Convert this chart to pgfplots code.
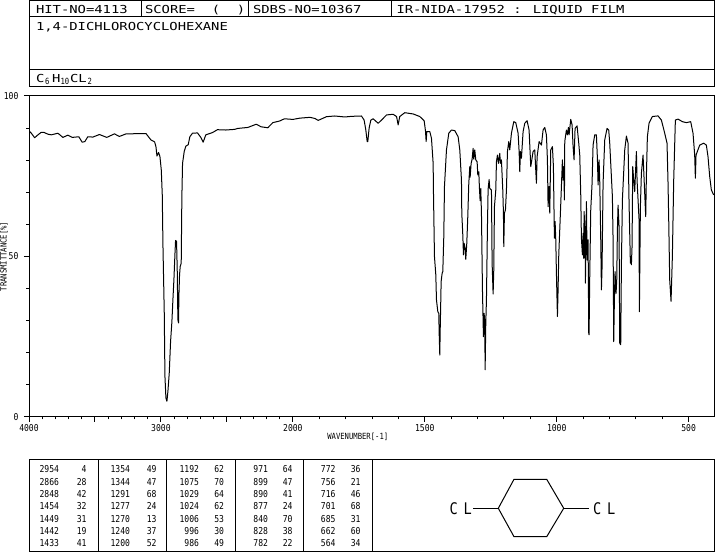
\documentclass[border=0pt]{standalone}
\usepackage{fontspec}
\usepackage{pgfplots}
\usepackage{pgfplotstable}
\pgfplotsset{compat=1.18}
\setmainfont{DejaVu Sans Mono}
\newfontfamily\wide[FakeStretch=1.26]{DejaVu Sans Mono}
\newfontfamily\thin[FakeStretch=0.85]{DejaVu Sans Mono}
\newcommand{\headfont}{\wide\fontsize{11}{11}\selectfont}
\newcommand{\subfont}{\thin\fontsize{8.5}{8.5}\selectfont}
\newcommand{\numfont}{\thin\fontsize{9.5}{9.5}\selectfont}

\pgfplotstableread{
w t
4000 89.2
3982.4 88.4
3957.2 87.0
3932 87.9
3906.8 88.7
3889.2 88.7
3856.4 88.1
3831.2 87.9
3780.8 88.4
3743 87.1
3705.3 87.8
3672.5 87.1
3622.2 87.3
3597 85.6
3576.8 85.8
3554.1 87.3
3516.4 87.2
3466 88.0
3410.6 87.1
3352.6 88.2
3314.8 87.4
3264.4 88.2
3113.3 88.3
3075.5 86.3
3047.8 85.7
3037.7 84.2
3030.2 81.3
3017.6 82.4
3007.5 81.1
2997.4 77.0
2989.9 69.2
2984.8 53.6
2974.8 32.4
2969.7 12.7
2962.2 5.9
2954.6 4.9
2947.1 8.0
2937 13.7
2926.9 23.5
2916.8 29.8
2909.3 36.5
2901.7 42.7
2894.1 50.5
2889.1 55.0
2881.6 54.7
2876.5 45.9
2871.5 30.3
2866.4 29.3
2864 37.6
2858.9 44.3
2853.9 46.9
2846.3 47.9
2841.3 68.7
2836.2 79.0
2823.6 82.7
2811 84.4
2793.4 84.8
2780.8 87.3
2760.7 88.4
2722.9 88.5
2697.6 87.1
2680 85.6
2659.9 87.9
2609.5 88.6
2571.7 89.5
2508.7 89.4
2442 89.6
2417 89.9
2341 90.2
2278 91.2
2240 90.4
2190 90.1
2152 91.7
2101 92.2
2064 92.9
2000 92.7
1973.5 93.1
1935.6 93.35
1916.6 93.0
1904 92.4
1872.5 93.56
1841 93.77
1803 93.46
1778 93.66
1740 93.77
1730 92.5
1723.5 89.4
1718.4 85.8
1716 85.8
1711 90.0
1704.5 92.5
1695.7 92.9
1676.7 91.5
1664 92.5
1645 94.1
1620 94.3
1607 93.6
1601 91.0
1595 93.6
1576 94.8
1544 94.4
1519 93.6
1502.5 92.3
1497.5 89.2
1494.9 85.8
1492.4 88.9
1481.0 88.9
1474.7 86.8
1468.4 79.0
1467.1 69.7
1463.4 50.0
1458.3 44.3
1455.8 36.5
1450.7 32.8
1447.0 32.3
1445.7 26.6
1443.2 19.3
1441.9 26.1
1439.4 36.5
1438.1 42.2
1434.3 44.8
1431.8 45.3
1428.0 56.2
1425.5 71.8
1417.9 83.2
1409.1 88.4
1399.0 89.4
1386.3 89.2
1373.7 87.3
1367.4 83.2
1361.1 73.8
1359.8 63.5
1356.0 56.7
1353.5 50.5
1351.0 54.1
1347.2 52.6
1344.7 49.1
1340.9 54.1
1337.1 62.4
1333.3 72.8
1329.5 78.0
1328.2 74.7
1324.5 79.0
1320.7 80.3
1316.9 83.7
1314.4 80.3
1310.6 83.2
1306.8 80.1
1301.7 79.5
1299.2 75.4
1295.4 76.4
1292.9 71.2
1290.4 67.4
1287.9 71.2
1285.3 63.5
1281.5 39.6
1277.8 25.0
1275.2 32.3
1272.7 29.2
1271.4 14.7
1268.9 29.2
1266.4 36.5
1262.6 59.3
1260.1 70.9
1256.3 74.0
1253.8 71.2
1247.4 70.7
1244.9 47.9
1241.1 38.3
1238.6 45.8
1236.1 65.5
1231.0 70.7
1228.5 79.5
1224.7 81.6
1220.9 79.0
1215.9 82.1
1213.3 79.0
1209.6 80.1
1204.5 70.7
1202.0 63.5
1200.7 53.1
1198.2 63.5
1194.4 64.5
1190.6 70.7
1186.8 82.7
1181.8 85.8
1178.0 83.2
1171.7 88.4
1162.8 92.0
1155.3 91.7
1146.4 88.4
1142.6 82.7
1140.1 76.4
1137.6 82.7
1133.8 80.6
1127.5 88.9
1121.2 91.5
1112.3 92.3
1104.8 89.4
1098.4 78.0
1089.6 82.7
1083.3 83.2
1077.0 72.8
1074.4 81.1
1066.8 85.8
1058.0 84.7
1051.7 89.4
1045.4 90.2
1039.1 87.9
1035.3 80.1
1032.8 65.5
1029.0 71.8
1026.4 63.5
1022.7 83.2
1016.3 84.2
1012.6 78.0
1010.0 62.4
1008.8 55.7
1006.2 60.9
1003.7 55.4
1001.2 44.8
997.4 31.3
994.9 39.6
992.3 50.5
986.1 63.5
982.3 71.8
978.5 80.1
976.0 73.8
973.4 78.0
970.9 67.6
969.6 85.8
963.3 89.4
959.5 87.9
955.7 90.2
953.2 87.9
946.9 92.7
941.8 91.0
938.0 84.2
934.3 80.1
930.5 89.9
922.9 90.7
916.6 85.3
912.8 81.6
909.0 69.2
906.5 55.7
902.7 50.5
900.2 57.2
897.6 49.4
896.4 64.0
892.6 57.2
891.3 41.7
888.8 59.3
887.5 67.1
885.0 48.9
881.2 55.2
878.7 26.1
877.5 25.6
874.9 43.7
871.1 64.5
866.1 72.8
862.3 84.7
856.0 87.9
849.7 87.9
845.9 80.6
843.3 72.3
839.6 80.1
837.0 73.3
833.2 55.2
830.7 39.6
828.2 46.8
824.4 72.8
818.1 86.3
809.3 89.9
803.0 89.4
799.2 85.3
789.1 68.7
786.5 55.2
784.0 23.5
781.5 36.5
779.0 45.3
775.2 38.5
772.6 42.7
770.1 58.3
767.6 66.0
763.8 59.3
761.3 23.0
757.5 22.5
755.0 46.8
751.2 67.6
742.3 83.2
736.0 87.5
729.7 85.3
725.9 66.6
720.9 47.9
718.3 50.0
717.1 47.4
714.6 53.1
712.0 78.0
708.2 73.8
704.5 70.2
698.1 82.7
695.6 73.8
688.0 61.4
686.8 32.8
683.0 65.5
679.2 75.9
672.9 81.6
666.6 69.7
662.8 62.4
660.3 74.9
656.5 87.3
650.2 91.5
637.5 93.6
616.1 93.8
603.4 92.5
590.8 88.4
582.0 85.3
578.2 72.8
575.6 61.4
571.9 42.7
566.8 36.0
561.8 50.0
556.7 73.8
550.4 92.5
540.3 92.8
523.9 92.0
508.7 91.7
492.3 92.0
483.5 88.4
477.2 81.6
474.6 74.4
472.1 81.6
458.2 84.7
443.1 85.3
433.0 84.7
426.7 81.1
420.3 74.9
414.0 70.7
405.2 69.2
}\spectrum

\begin{document}
\begin{tikzpicture}[line cap=butt]
\path[use as bounding box] (0,0) rectangle (715pt,553pt);
\begin{axis}[
    at={(29pt,136pt)},
    anchor=south west,
    scale only axis,
    width=685pt,
    height=321pt,
    % the scale doubles below 2000
    x coord trafo/.code={\pgfmathparse{#1>2000?4000-#1:6000-2*#1}},
    xmin=4000, xmax=404,
    ymin=0, ymax=100,
    axis line style={line width=1pt},
    tick style={black,line width=1pt},
    tick align=outside,
    tick pos=left,
    major tick length=5pt,
    minor tick length=2.5pt,
    xtick={4000,3500,3000,2500,2000,1500,1000,500},
    xticklabels={4000,,3000,,2000,1500,1000,500},
    minor xtick={3900,3800,3700,3600,3400,3300,3200,3100,2900,2800,2700,2600,2400,2300,2200,2100,1900,1800,1700,1600,1400,1300,1200,1100,900,800,700,600,400},
    ytick={0,50,100},
    yticklabels={0,50,100},
    minor ytick={10,20,30,40,60,70,80,90},
    tick label style={font=\numfont},
    yticklabel style={xshift=-2pt},
    xticklabel style={yshift=1pt},
    xlabel={WAVENUMBER[-1]},
    xlabel style={font=\subfont,at={(axis description cs:0.48,-0.0625)},anchor=center},
    ylabel={TRANSMITTANCE[\%]},
    ylabel style={font=\subfont,at={(axis description cs:-0.0365,0.5)},anchor=center},
]
\addplot[black,line width=1pt,line join=round] table[x=w,y=t] {\spectrum};
\end{axis}
\begin{scope}[x=1pt,y=-1pt,yshift=553pt,line width=1pt]
% header box
\draw (29,0.5) rectangle (714.5,87);
\draw (29,17) -- (714.5,17) (29,69.5) -- (714.5,69.5);
\draw (141,0.5) -- (141,17) (248.5,0.5) -- (248.5,17) (391,0.5) -- (391,17);
\tikzset{every node/.style={inner sep=0pt,anchor=base west}}
\node[font=\headfont] at (35.5,13.5) {HIT-NO=4113};
\node[font=\headfont] at (144.5,13.5) {SCORE=~~(~~)};
\node[font=\headfont] at (252.5,13.5) {SDBS-NO=10367};
\node[font=\headfont] at (396,13.5) {IR-NIDA-17952 : LIQUID FILM};
\node[font=\headfont] at (35.5,31) {1,4-DICHLOROCYCLOHEXANE};
\node[font=\headfont] at (35.5,83) {C};
\node[font=\subfont] at (44.5,85) {6};
\node[font=\headfont] at (51.5,83) {H};
\node[font=\subfont] at (60,85) {10};
\node[font=\headfont] at (69.5,83) {CL};
\node[font=\subfont] at (87,85) {2};
% peak table
\draw (29,460) rectangle (714.5,552);
\draw (98.5,460) -- (98.5,552) (166.5,460) -- (166.5,552) (235.5,460) -- (235.5,552) (303.5,460) -- (303.5,552) (372,460) -- (372,552);
\tikzset{every node/.style={inner sep=0pt,anchor=base east,font=\numfont}}
\foreach \xa/\xb/\col in {
    59.5/87/{2954/4,2866/28,2848/42,1454/32,1449/31,1442/19,1433/41},
    130.5/157/{1354/49,1344/47,1291/68,1277/24,1270/13,1240/37,1200/52},
    199.5/224.5/{1192/62,1075/70,1029/64,1024/62,1006/53,996/30,986/49},
    268.5/293/{971/64,899/47,890/41,877/24,840/70,828/38,782/22},
    336/361/{772/36,756/21,716/46,701/68,685/31,662/60,564/34}} {
  \foreach \wn/\tr [count=\r from 0] in \col {
    \node at (\xa,473+12.3*\r) {\wn};
    \node at (\xb,473+12.3*\r) {\tr};
  }
}
% structure
\draw (498.3,508.3) -- (514,479.3) -- (546.7,479.3) -- (563.7,508.3) -- (546.7,536.7) -- (514,536.7) -- cycle;
\draw (473.3,508.3) -- (498.3,508.3) (563.7,508.3) -- (589,508.3);
\tikzset{every node/.style={inner sep=0pt,anchor=base west,font=\thin\fontsize{16}{16}\selectfont}}
\node at (449,514.5) {C};
\node at (463,514.5) {L};
\node at (592.5,514.5) {C};
\node at (606.5,514.5) {L};
\end{scope}
\end{tikzpicture}
\end{document}
